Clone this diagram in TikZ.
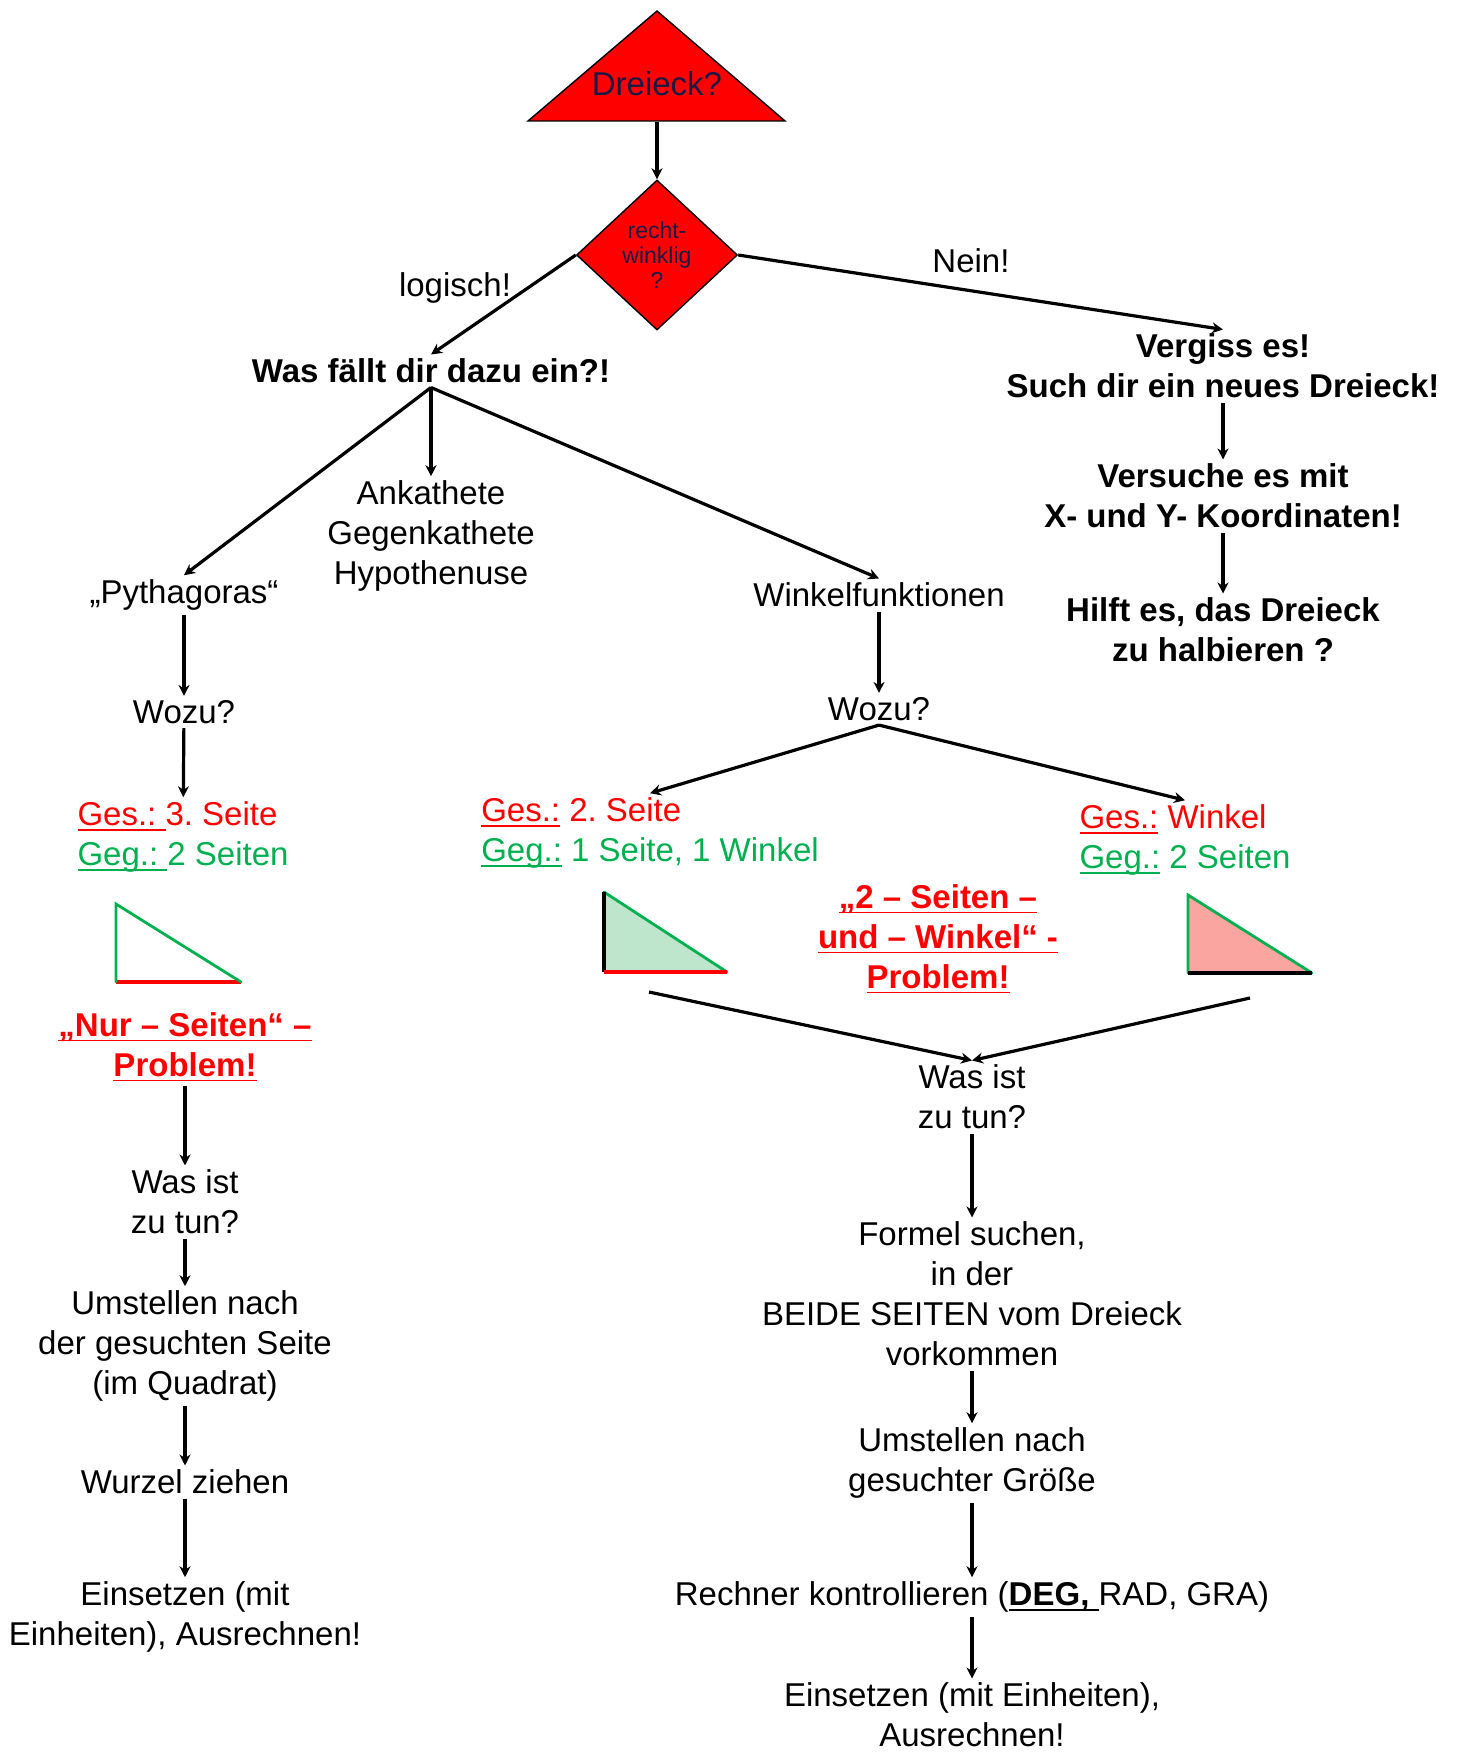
\documentclass[tikz,border=0pt]{standalone}
\usepackage{fontspec}
\setmainfont{Liberation Sans}
\usetikzlibrary{positioning,arrows.meta,shapes.geometric}

\definecolor{dunkelblau}{RGB}{25,25,70}
\definecolor{gruen}{RGB}{0,176,80}
\definecolor{mintfill}{RGB}{190,230,205}
\definecolor{lachs}{RGB}{250,165,160}

% underline with its own bar
\newcommand{\unter}[1]{\setbox0\hbox{#1}\rlap{\rule[-2.5pt]{\wd0}{0.9pt}}\box0\relax}
\frenchspacing

\begin{document}
\begin{tikzpicture}[x=0.5pt, y=-0.5pt,
  txt/.style={font=\fontsize{16.5}{20}\selectfont, inner sep=2pt, align=center},
  btxt/.style={font=\fontsize{16.5}{20}\selectfont\bfseries, inner sep=2pt, align=center},
  ltxt/.style={font=\fontsize{16.5}{20}\selectfont, inner sep=2pt, align=left},
  probl/.style={btxt, text=red},
  raute/.style={diamond, draw, fill=red, line width=0.7pt, minimum width=80.5pt, minimum height=75pt,
    inner sep=0pt, align=center, text=dunkelblau, font=\fontsize{11.5}{12.5}\selectfont},
  arr/.style={-{Stealth[length=5.5pt,width=5.5pt]}, line width=1.6pt},
  gkante/.style={draw=gruen, line width=1.4pt, line cap=round},
  rkante/.style={draw=red, line width=2.2pt},
  skante/.style={draw=black, line width=2pt}
]
\useasboundingbox (0,0) rectangle (1459,1755);

% top
\draw[fill=red, line width=0.7pt] (528,121) -- (657,11) -- (785,121) -- cycle;
\node[txt, text=dunkelblau] (dreieck) at (657,84) {Dreieck?};
\coordinate (dreieckfuss) at (657,122);
\node[raute] (rechtw) at (657,255) {recht-\\winklig\\?};
\node[txt] (logisch) at (455,288) {logisch!};
\node[txt] (nein) at (971,261) {Nein!};

\node[btxt] (was) at (431,371) {Was fällt dir dazu ein?!};
\node[btxt] (vergiss) at (1223,366) {Vergiss es!\\Such dir ein neues Dreieck!};
\node[btxt] (versuche) at (1223,496) {Versuche es mit\\X- und Y- Koordinaten!};
\node[btxt] (hilft) at (1223,630) {Hilft es, das Dreieck\\zu halbieren ?};

\node[txt] (katheten) at (431,536) {Ankathete\\Gegenkathete\\Hypothenuse};
\node[txt] (pyth) at (184,595) {„Pythagoras“};
\node[txt] (winkel) at (879,595) {Winkelfunktionen};

% left column
\node[txt] (wozul) at (184,712) {Wozu?};
\node[ltxt] (gesl) at (183,837) {\textcolor{red}{\unter{Ges.:\ }3. Seite}\\\textcolor{gruen}{\unter{Geg.:\ }2 Seiten}};
\node[probl] (nurseiten) at (185,1047) {\unter{„Nur – Seiten“ –}\\\unter{Problem!}};
\node[txt] (wastunl) at (185,1202) {Was ist\\zu tun?};
\node[txt] (umstl) at (185,1346) {Umstellen nach\\der gesuchten Seite\\(im Quadrat)};
\node[txt] (wurzel) at (185,1482) {Wurzel ziehen};
\node[txt] (einsetzenl) at (185,1617) {Einsetzen (mit\\Einheiten), Ausrechnen!};

% right column
\node[txt] (wozur) at (879,709) {Wozu?};
\node[ltxt] (gesm) at (650,833) {\textcolor{red}{\unter{Ges.:}\ 2. Seite}\\\textcolor{gruen}{\unter{Geg.:}\ 1 Seite, 1 Winkel}};
\node[ltxt] (gesr) at (1185,840) {\textcolor{red}{\unter{Ges.:}\ Winkel}\\\textcolor{gruen}{\unter{Geg.:}\ 2 Seiten}};
\node[probl] (zweiseiten) at (938,939) {\unter{„2 – Seiten –}\\\unter{und – Winkel“ -}\\\unter{Problem!}};
\node[txt] (wastunr) at (972,1097) {Was ist\\zu tun?};
\node[txt] (formel) at (972,1294) {Formel suchen,\\in der\\BEIDE SEITEN vom Dreieck\\vorkommen};
\node[txt] (umstr) at (972,1463) {Umstellen nach\\gesuchter Größe};
\node[txt] (rechner) at (972,1597) {Rechner kontrollieren (\unter{\textbf{DEG,}\ }RAD, GRA)};
\node[txt] (einsetzenr) at (972,1715) {Einsetzen (mit Einheiten),\\Ausrechnen!};

% triangles
\draw[rkante] (116,982) -- (241,982);
\draw[gkante] (116,982) -- (116,904) -- (241,982);

\fill[mintfill] (604,892) -- (604,972) -- (727,972) -- cycle;
\draw[gkante] (604,892) -- (727,972);
\draw[skante] (604,892) -- (604,972);
\draw[rkante] (604,972) -- (727,972);

\fill[lachs] (1188,895) -- (1188,973) -- (1312,973) -- cycle;
\draw[gkante] (1312,973) -- (1188,895) -- (1188,973);
\draw[skante] (1188,973) -- (1312,973);

\coordinate (gruenende) at (649,992);
\coordinate (rotende) at (1250,998);

% connectors
\draw[arr] (dreieckfuss) -- (rechtw.north);
\draw[arr] (rechtw.west) -- (was.north);
\draw[arr] (rechtw.east) -- (vergiss.north);
\draw[arr] (vergiss) -- (versuche);
\draw[arr] (versuche) -- (hilft);
\draw[arr] (was.south) -- (pyth.north);
\draw[arr] (was.south) -- (katheten.north);
\draw[arr] (was.south) -- (winkel.north);
\draw[arr] (pyth) -- (wozul);
\draw[arr] (wozul) -- (gesl);
\draw[arr] (nurseiten) -- (wastunl);
\draw[arr] (wastunl) -- (umstl);
\draw[arr] (umstl) -- (wurzel);
\draw[arr] (wurzel) -- (einsetzenl);
\draw[arr] (winkel) -- (wozur);
\draw[arr] (wozur.south) -- (gesm.north);
\draw[arr] (wozur.south) -- (gesr.north);
\draw[arr] (gruenende) -- (wastunr.north);
\draw[arr] (rotende) -- (wastunr.north);
\draw[arr] (wastunr) -- (formel);
\draw[arr] (formel) -- (umstr);
\draw[arr] (umstr) -- (rechner);
\draw[arr] (rechner) -- (einsetzenr);

\end{tikzpicture}
\end{document}
